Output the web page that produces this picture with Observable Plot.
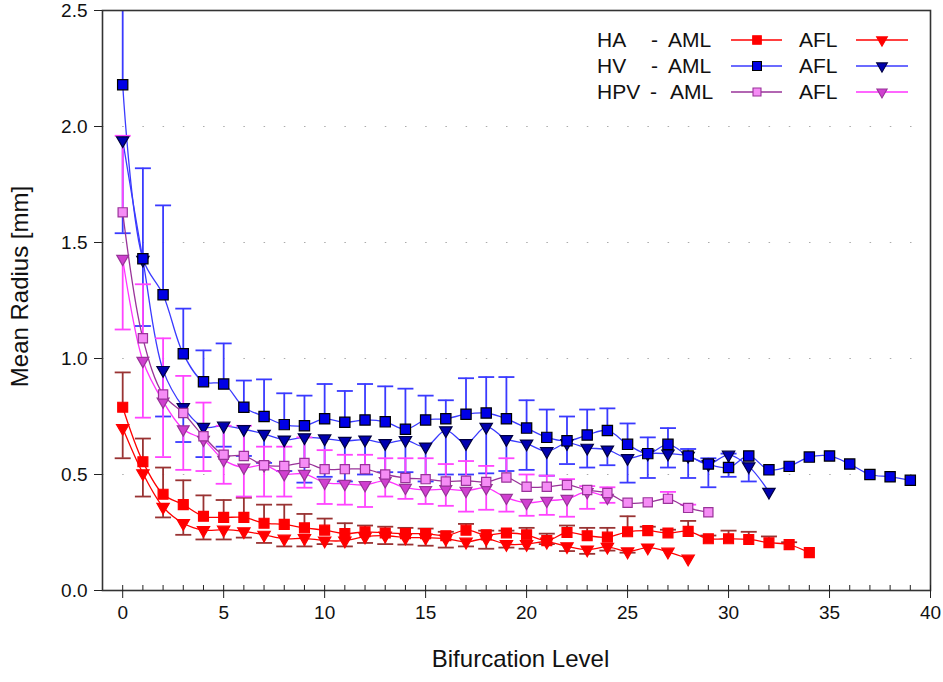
<!DOCTYPE html>
<html>
<head>
<meta charset="utf-8">
<script src="https://cdn.jsdelivr.net/npm/d3@7"></script>
<script src="https://cdn.jsdelivr.net/npm/@observablehq/plot@0.6"></script>
<style>
  html, body { margin: 0; padding: 0; background: #fff; }
  #wrap { position: relative; width: 943px; height: 682px; }
  #legend { position: absolute; left: 0; top: 0; pointer-events: none; }
</style>
</head>
<body>
<div id="wrap"></div>
<script>
// ---- Data ----
// Mean radius per bifurcation level (index = level)
const haAml  = [0.79,0.555,0.415,0.37,0.32,0.315,0.315,0.29,0.285,0.27,0.26,0.245,0.253,0.248,0.245,0.245,0.236,0.26,0.24,0.248,0.24,0.215,0.25,0.236,0.23,0.253,0.258,0.248,0.255,0.223,0.223,0.22,0.206,0.198,0.163];
const haAmlErr = [0.15,0.10,0.115,0.105,0.09,0.075,0.085,0.08,0.085,0.06,0.05,0.045,0.027,0.027,0.025,0.022,0.017,0.027,0.018,0.01,0.03,0.03,0.03,0.034,0.04,0.067,0.017,0.014,0.045,0.014,0.035,0.033,0.027,0.01,null];

const haAfl  = [0.70,0.505,0.36,0.29,0.26,0.262,0.255,0.24,0.223,0.225,0.215,0.215,0.232,0.236,0.228,0.228,0.223,0.21,0.223,0.20,0.20,0.21,0.19,0.176,0.188,0.168,0.185,0.167,0.137];
const haAflErr = [0.13,0.10,0.045,0.05,0.04,0.042,0.027,0.035,0.033,0.035,0.015,0.025,0.027,0.036,0.03,0.035,0.038,0.02,0.043,0.015,0.02,0.01,0.02,0.018,0.016,0.005,null,null,null];

const hvAml  = [2.18,1.43,1.275,1.02,0.90,0.89,0.79,0.75,0.715,0.71,0.74,0.725,0.735,0.727,0.695,0.735,0.74,0.76,0.765,0.74,0.70,0.66,0.645,0.67,0.69,0.63,0.59,0.63,0.58,0.545,0.53,0.58,0.52,0.535,0.575,0.58,0.545,0.50,0.49,0.475];
const hvAmlErr = [0.64,0.39,0.385,0.195,0.135,0.175,0.115,0.16,0.135,0.13,0.15,0.135,0.155,0.153,0.175,0.105,0.08,0.155,0.155,0.18,0.12,0.12,0.105,0.11,0.095,0.09,0.07,0.07,0.03,0.025,0.06,null,null,null,null,null,null,null,null,null];

const hvAfl  = [1.94,1.425,0.95,0.79,0.705,0.71,0.695,0.675,0.65,0.66,0.655,0.645,0.65,0.635,0.648,0.62,0.69,0.635,0.705,0.652,0.633,0.60,0.635,0.615,0.607,0.57,0.59,0.59,0.58,0.545,0.585,0.535,0.425];
const hvAflErr = [0.40,0.285,0.20,0.15,0.13,0.09,0.115,0.125,0.135,0.195,0.165,0.175,0.15,0.125,0.138,0.15,0.19,0.135,0.20,0.137,0.113,0.105,0.09,0.085,0.067,0.105,0.105,0.06,0.095,0.10,0.095,0.065,null];

const hpvAml = [1.63,1.087,0.845,0.765,0.665,0.585,0.58,0.54,0.537,0.55,0.523,0.523,0.523,0.50,0.485,0.48,0.47,0.473,0.468,0.487,0.447,0.447,0.455,0.433,0.42,0.378,0.38,0.395,0.356,0.337];
const hpvAmlErr = [0.33,0.233,0.242,0.16,0.145,0.125,0.13,0.08,0.083,0.11,0.082,0.062,0.062,0.07,0.085,0.09,0.075,0.085,0.069,0.083,0.053,0.048,0.025,0.017,0.025,null,null,0.03,0.014,null];

const hpvAfl = [1.43,0.99,0.815,0.695,0.65,0.563,0.53,0.54,0.502,0.503,0.465,0.46,0.455,0.472,0.443,0.433,0.437,0.43,0.442,0.40,0.378,0.387,0.395,0.425,0.40];
const hpvAflErr = [0.305,0.245,0.24,0.175,0.135,0.103,0.125,0.135,0.097,0.06,0.092,0.09,0.095,0.067,0.048,0.06,0.072,0.09,0.094,0.06,0.056,0.061,0.077,0.073,0.022];

// Axis ticks and labels
const xTicks = [0,5,10,15,20,25,30,35,40];
const xMinorTicks = d3.range(0, 41);
const yTicks = [0,0.5,1.0,1.5,2.0,2.5];
const xLabel = "Bifurcation Level";
const yLabel = "Mean Radius [mm]";

// ---- Styles ----
const FONT = "'Liberation Sans', Arial, Helvetica, sans-serif";
const RED = "#ff0000", HA_ERR = "#993333";
const BLUE = "#3a3aff";
const PURPLE = "#993399", MAGENTA = "#ff33ff", HPV_ERR = "#ff44ff";

const series = [
  {group:"HA",  type:"AML", values: haAml,  errs: haAmlErr,  dir: +1, line: RED,    err: HA_ERR,  symbol:"square",   fill: RED,       stroke: RED,      r: 5.6, rotate: 0},
  {group:"HA",  type:"AFL", values: haAfl,  errs: haAflErr,  dir: -1, line: RED,    err: HA_ERR,  symbol:"triangle", fill: RED,       stroke: RED,      r: 4.6, rotate: 180},
  {group:"HV",  type:"AML", values: hvAml,  errs: hvAmlErr,  dir: +1, line: BLUE,   err: BLUE,    symbol:"square",   fill: "#0000e6", stroke: "#000",   r: 5.8, rotate: 0},
  {group:"HV",  type:"AFL", values: hvAfl,  errs: hvAflErr,  dir: -1, line: BLUE,   err: BLUE,    symbol:"triangle", fill: "#0000b0", stroke: "#000040", r: 4.6, rotate: 180},
  {group:"HPV", type:"AML", values: hpvAml, errs: hpvAmlErr, dir: +1, line: PURPLE, err: HPV_ERR, symbol:"square",   fill: "#f58cf5", stroke: PURPLE,   r: 5.2, rotate: 0},
  {group:"HPV", type:"AFL", values: hpvAfl, errs: hpvAflErr, dir: -1, line: MAGENTA,err: HPV_ERR, symbol:"triangle", fill: "#d040d0", stroke: PURPLE,   r: 4.4, rotate: 180}
];

const capSymbol = { draw(ctx) { ctx.moveTo(-8, 0); ctx.lineTo(8, 0); } };

const marks = [
  Plot.gridY(yTicks.filter(d => d > 0 && d < 2.5), {stroke: "#888", strokeOpacity: 0.7, strokeDasharray: "1.5,18.7"}),
];

const layers = series.map(s => {
  const rows = s.values.map((v, i) => ({level: i, value: v, err: s.errs[i],
    bound: s.errs[i] == null ? null : v + s.dir * s.errs[i]}));
  return {s, rows, withErr: rows.filter(d => d.err != null)};
});

for (const {s, rows, withErr} of layers) {
  marks.push(
    Plot.ruleX(withErr, {x: "level", y1: "value", y2: "bound", stroke: s.err, strokeWidth: 1.8, clip: true}),
    Plot.dot(withErr, {x: "level", y: "bound", symbol: capSymbol, stroke: s.err, strokeWidth: 1.8, fill: "none", clip: true}),
    Plot.line(rows, {x: "level", y: "value", stroke: s.line, strokeWidth: 1.3, curve: "catmull-rom"})
  );
}
// markers: AFL first, then AML on top
for (const {s, rows} of [...layers.filter(l => l.s.type === "AFL"), ...layers.filter(l => l.s.type === "AML")]) {
  marks.push(Plot.dot(rows, {x: "level", y: "value", symbol: s.symbol, fill: s.fill, stroke: s.stroke, strokeWidth: 1.2, r: s.r, rotate: s.rotate}));
}

marks.push(
  Plot.frame({stroke: "#333", strokeWidth: 1.6}),
  Plot.axisX({ticks: xMinorTicks, tickSize: -5, text: null, label: null, stroke: "#222"}),
  Plot.axisX({ticks: xTicks, tickSize: 8, tickPadding: 7, fontSize: 19, label: null, stroke: "#222", fill: "#111"}),
  Plot.axisY({ticks: yTicks, tickSize: 8, tickPadding: 7, fontSize: 19, label: null, tickFormat: d3.format(".1f"), stroke: "#222", fill: "#111"}),
  Plot.text([xLabel], {frameAnchor: "bottom", dy: 76, dx: 4, fontSize: 24, fill: "#111", text: d => d}),
  Plot.text([yLabel], {frameAnchor: "left", textAnchor: "middle", dx: -82, dy: -14, rotate: -90, fontSize: 24, fill: "#111", text: d => d})
);

const chart = Plot.plot({
  width: 943, height: 682,
  marginLeft: 102, marginRight: 13, marginTop: 10, marginBottom: 92,
  x: {domain: [-1, 40]},
  y: {domain: [0, 2.5]},
  style: {fontFamily: FONT, background: "#fff", color: "#111"},
  marks
});
const wrap = document.getElementById("wrap");
wrap.appendChild(chart);

// ---- Legend (inside plot, top right) ----
const leg = d3.select(wrap).append("svg").attr("id", "legend")
  .attr("width", 943).attr("height", 682)
  .style("font-family", FONT);
const rowY = [40, 66, 92];
const groups = ["HA", "HV", "HPV"];
const dashX = {HA: 651, HV: 651, HPV: 650};
const amlX = {HA: 668, HV: 668, HPV: 670};
groups.forEach((g, gi) => {
  const y = rowY[gi];
  leg.append("text").attr("x", 597).attr("y", y).attr("dy", "0.35em").attr("font-size", 21).attr("fill", "#111").text(g);
  leg.append("text").attr("x", dashX[g]).attr("y", y).attr("dy", "0.35em").attr("font-size", 21).attr("fill", "#111").text("-");
  leg.append("text").attr("x", amlX[g]).attr("y", y).attr("dy", "0.35em").attr("font-size", 21).attr("fill", "#111").text("AML");
  leg.append("text").attr("x", 799).attr("y", y).attr("dy", "0.35em").attr("font-size", 21).attr("fill", "#111").text("AFL");
  const sAml = series.find(s => s.group === g && s.type === "AML");
  const sAfl = series.find(s => s.group === g && s.type === "AFL");
  [[sAml, 731, 782, 757], [sAfl, 856, 908, 882]].forEach(([s, x1, x2, xm]) => {
    leg.append("line").attr("x1", x1).attr("x2", x2).attr("y1", y).attr("y2", y)
      .attr("stroke", s.line).attr("stroke-width", 1.5);
    const sym = s.symbol === "square" ? d3.symbolSquare : d3.symbolTriangle;
    leg.append("path")
      .attr("d", d3.symbol(sym, Math.PI * s.r * s.r * 0.75)())
      .attr("transform", `translate(${xm},${y}) rotate(${s.rotate})`)
      .attr("fill", s.fill).attr("stroke", s.stroke).attr("stroke-width", 1.1);
  });
});
</script>
</body>
</html>
